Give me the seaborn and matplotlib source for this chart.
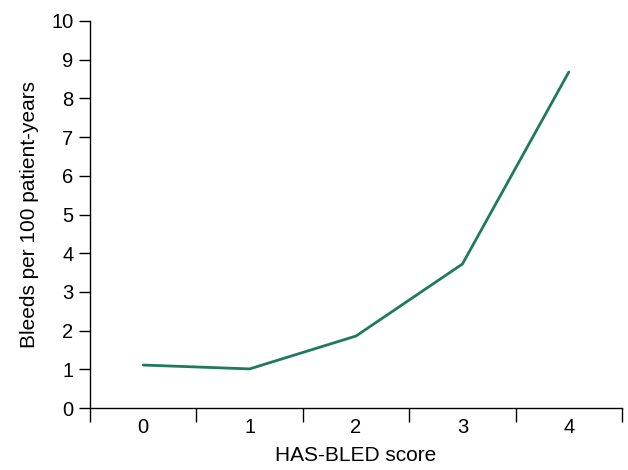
import matplotlib
matplotlib.use("Agg")
import matplotlib.pyplot as plt
import seaborn as sns
import pandas as pd

scores = [0, 1, 2, 3, 4]
bleeds = [1.11, 1.01, 1.86, 3.72, 8.68]
yticks = list(range(0, 11))

sns.set_theme(style="ticks")
plt.rcParams['font.family'] = ['Liberation Sans', 'DejaVu Sans']

df = pd.DataFrame({"score": scores, "bleeds": bleeds})

fig = plt.figure(figsize=(6.28, 4.70), dpi=100)
ax = fig.add_axes([90/628, 62/470, 532/628, 387/470])
sns.lineplot(data=df, x="score", y="bleeds", ax=ax, color="#1e7a5f", linewidth=2.0)

ax.set_xlim(-0.5, 4.5)
ax.set_ylim(0, 10)
ax.set_yticks(yticks)
ax.set_xticks(scores)
ax.set_xticks([s - 0.5 for s in scores] + [4.5], minor=True)
ax.tick_params(axis="x", which="major", length=0, labelsize=14.5, pad=7, colors="black")
ax.tick_params(axis="x", which="minor", length=10, width=1, color="black", direction="out")
ax.tick_params(axis="y", length=8, width=1, labelsize=14.5, colors="black", direction="out", pad=4)
for s in ["top", "right"]:
    ax.spines[s].set_visible(False)
for s in ["left", "bottom"]:
    ax.spines[s].set_color("black")
    ax.spines[s].set_linewidth(1)
ax.set_xlabel("HAS-BLED score", fontsize=15, labelpad=7, color="black")
ax.set_ylabel("Bleeds per 100 patient-years", fontsize=15, labelpad=9, color="black")

fig.savefig("out.png", dpi=100)
